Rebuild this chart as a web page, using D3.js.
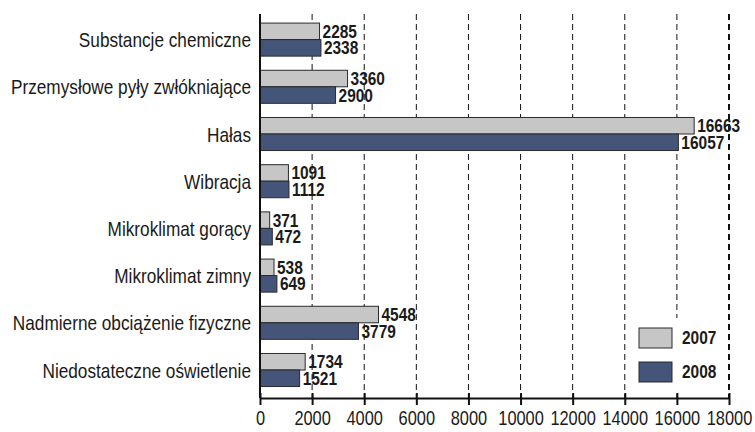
<!DOCTYPE html>
<html>
<head>
<meta charset="utf-8">
<script src="https://cdn.jsdelivr.net/npm/d3@7"></script>
<style>
  body { margin: 0; background: #fff; }
  svg text { font-family: "Liberation Sans", Arial, sans-serif; }
</style>
</head>
<body>
<div id="chart"></div>
<script>
// Data
const categories = [
  "Substancje chemiczne",
  "Przemysłowe pyły zwłókniające",
  "Hałas",
  "Wibracja",
  "Mikroklimat gorący",
  "Mikroklimat zimny",
  "Nadmierne obciążenie fizyczne",
  "Niedostateczne oświetlenie"
];
const series = ["2007", "2008"];
const values2007 = [2285, 3360, 16663, 1091, 371, 538, 4548, 1734];
const values2008 = [2338, 2900, 16057, 1112, 472, 649, 3779, 1521];
const xTicks = [0, 2000, 4000, 6000, 8000, 10000, 12000, 14000, 16000, 18000];

const W = 755, H = 432;
const plot = { left: 260, right: 729, top: 16, bottom: 393.6, axisY: 398 };
// no narrow font installed, so squeeze text horizontally
const narrow = 0.82;

const colors = {
  "2007": "#c6c6c6",
  "2008": "#45557a",
  stroke: "#2a2a2a",
  text: "#1a1a1a"
};

const rows = categories.map((c, i) => ({
  cat: c,
  vals: [{ s: "2007", v: values2007[i] }, { s: "2008", v: values2008[i] }]
}));

const svg = d3.select("#chart").append("svg")
    .attr("width", W)
    .attr("height", H);

const x = d3.scaleLinear().domain([0, 18000]).range([plot.left, plot.right]);
const y = d3.scaleBand().domain(categories).range([plot.top, plot.bottom]).paddingInner(0.3).paddingOuter(0.15);
const ySub = d3.scaleBand().domain(series).range([0, y.bandwidth()]);

// Dashed gridlines
svg.append("g")
  .selectAll("line")
  .data(xTicks.filter(t => t > 0))
  .enter().append("line")
    .attr("x1", d => x(d)).attr("x2", d => x(d))
    .attr("y1", 14).attr("y2", plot.axisY)
    .attr("stroke", "#111")
    .attr("stroke-width", d => d === 18000 ? 2 : 1)
    .attr("stroke-dasharray", "6,4");

// Bars
const groups = svg.append("g")
  .selectAll("g")
  .data(rows)
  .enter().append("g")
    .attr("transform", d => `translate(0,${y(d.cat)})`);

groups.selectAll("rect")
  .data(d => d.vals)
  .enter().append("rect")
    .attr("x", x(0))
    .attr("y", d => ySub(d.s))
    .attr("width", d => x(d.v) - x(0))
    .attr("height", ySub.bandwidth())
    .attr("fill", d => colors[d.s])
    .attr("stroke", colors.stroke)
    .attr("stroke-width", 1);

groups.selectAll("text")
  .data(d => d.vals)
  .enter().append("text")
    .attr("transform", d => `translate(${x(d.v) + 3},${ySub(d.s) + ySub.bandwidth() / 2}) scale(0.86,1)`)
    .attr("dy", "0.36em")
    .attr("font-size", 18)
    .attr("font-weight", "bold")
    .attr("fill", colors.text)
    .text(d => d.v);

// Category labels
svg.append("g")
  .selectAll("text")
  .data(categories)
  .enter().append("text")
    .attr("transform", d => `translate(${plot.left - 9},${y(d) + y.bandwidth() / 2}) scale(${narrow},1)`)
    .attr("dy", "0.36em")
    .attr("text-anchor", "end")
    .attr("font-size", 21)
    .attr("fill", colors.text)
    .text(d => d);

// Y axis line
svg.append("line")
  .attr("x1", plot.left).attr("x2", plot.left)
  .attr("y1", 14).attr("y2", plot.axisY)
  .attr("stroke", "#111").attr("stroke-width", 2);

// X axis
const xAxis = svg.append("g")
  .attr("transform", `translate(0,${plot.axisY})`)
  .call(d3.axisBottom(x).tickValues(xTicks).tickFormat(d3.format("d"))
    .tickSize(7).tickSizeOuter(0).tickPadding(6));
xAxis.select(".domain").attr("stroke", "#111").attr("stroke-width", 2);
xAxis.selectAll(".tick line").attr("stroke", "#111").attr("stroke-width", 2).attr("y1", -5);
xAxis.selectAll(".tick text")
  .attr("font-size", 20)
  .attr("font-family", null)
  .attr("transform", `scale(${narrow},1)`)
  .attr("fill", colors.text);

// Legend
const legend = svg.append("g").attr("transform", "translate(633,318)");
legend.append("rect")
  .attr("width", 92).attr("height", 74)
  .attr("fill", "#fff");
const li = legend.selectAll("g")
  .data(series)
  .enter().append("g")
    .attr("transform", (d, i) => `translate(6,${10 + i * 34})`);
li.append("rect")
  .attr("width", 33).attr("height", 20)
  .attr("fill", d => colors[d])
  .attr("stroke", colors.stroke);
li.append("text")
  .attr("transform", `translate(43,10) scale(0.86,1)`)
  .attr("dy", "0.36em")
  .attr("font-size", 18).attr("font-weight", "bold")
  .attr("fill", colors.text)
  .text(d => d);
</script>
</body>
</html>
